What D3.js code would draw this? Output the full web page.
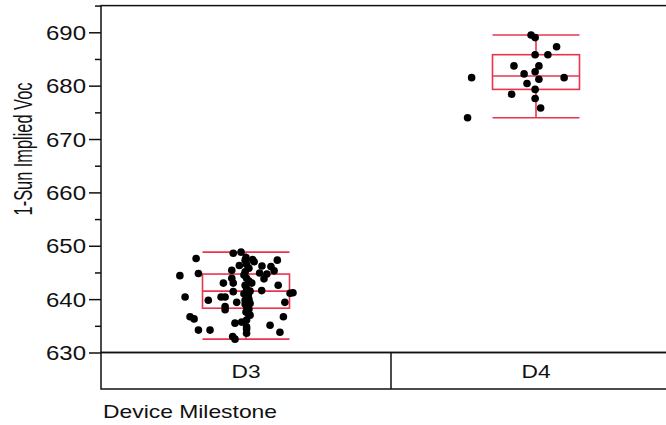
<!DOCTYPE html>
<html>
<head>
<meta charset="utf-8">
<script src="https://cdn.jsdelivr.net/npm/d3@7"></script>
<style>
  html, body { margin: 0; padding: 0; background: #fff; }
  svg { display: block; }
  text { font-family: "Liberation Sans", Arial, sans-serif; fill: #111; }
</style>
</head>
<body>
<svg id="chart" width="666" height="425"></svg>
<script>
// Groups on the x axis
const categories = ["D3", "D4"];

// 1-Sun implied Voc per device, D3 milestone
const valuesD3 = [
  647.6, 644.4, 644.8, 640.4, 648.6, 648.8, 647.8, 646.5, 647.0, 646.2,
  647.3, 646.1, 644.9, 644.7, 645.3, 643.8, 646.3, 645.4, 643.9, 645.1,
  643.9, 643.0, 643.0, 643.0, 642.6, 641.6, 641.4, 642.0, 640.8, 641.1,
  641.2, 640.4, 640.4, 639.8, 639.4, 639.2, 639.4, 638.6, 638.0, 639.8,
  638.6, 636.7, 636.3, 634.2, 634.2, 635.5, 635.7, 637.0, 636.1, 634.8,
  633.6, 636.7, 635.1, 633.8, 633.0, 632.5, 647.3, 647.4, 645.8, 644.5,
  643.4, 642.6, 641.5, 641.0, 640.0, 639.1, 638.1, 637.6, 637.3, 634.4
];
// horizontal jitter of each D3 point, as a fraction of the category width
const jitterD3 = [
  -0.172, -0.228, -0.164, -0.210, -0.044, -0.017, 0.000, 0.002, 0.028, 0.055,
   0.108,  0.086,  0.047,  0.072,  0.097,  0.062, -0.023, -0.049, -0.049, -0.003,
   0.002, -0.078, -0.044,  0.020,  0.111,  0.054, -0.044,  0.002,  0.008,  0.152,
   0.162, -0.086, -0.072, -0.130, -0.032,  0.014,  0.134, -0.072, -0.072, -0.003,
   0.002, -0.193, -0.179, -0.164, -0.124, -0.038, -0.015,  0.014,  0.002,  0.002,
   0.002,  0.129,  0.083,  0.117, -0.046, -0.038, -0.003,  0.023,  0.010, -0.007,
   0.010, -0.003,  0.014, -0.007,  0.010, -0.003,  0.010,  0.000,  0.008,  0.002
];

// 1-Sun implied Voc per device, D4 milestone
const valuesD4 = [
  689.5, 689.0, 687.3, 685.8, 685.8, 683.7, 683.7, 682.6, 682.2,
  681.5, 681.5, 681.2, 680.4, 679.3, 678.4, 677.6, 675.8, 674.0
];
const jitterD4 = [
  -0.017, -0.003, 0.071, -0.003, 0.041, -0.076, 0.010, -0.003, -0.041,
  -0.222, 0.097, 0.010, -0.031, -0.003, -0.084, -0.003, 0.016, -0.236
];

// Box plot summary per group (whisker ends, quartiles, median)
const whiskerLow  = [632.5, 674.0];
const quartile1   = [638.3, 679.3];
const medians     = [641.5, 681.8];
const quartile3   = [644.7, 685.8];
const whiskerHigh = [648.8, 689.5];

// Axis ticks
const majorTicks = [630, 640, 650, 660, 670, 680, 690];
const minorTicks = [635, 645, 655, 665, 675, 685, 695];

const svg = d3.select("#chart");
const boxColor = "#e8344e";
const SX = 1.23;              // horizontal text stretch

const plotTop = 5.6, plotBottom = 352.5, plotLeft = 101, plotRight = 681;
const bandBottom = 389;

const y = d3.scaleLinear().domain([630, 695]).range([plotBottom, plotTop]);
const x = d3.scaleBand().domain(categories).range([plotLeft, plotRight]);
const boxW = x.bandwidth() * 0.3;

// Plot frame
svg.append("rect")
  .attr("x", plotLeft).attr("y", plotTop)
  .attr("width", plotRight - plotLeft).attr("height", plotBottom - plotTop)
  .attr("fill", "none").attr("stroke", "#111").attr("stroke-width", 1.5);

// Category band below the plot
svg.append("rect")
  .attr("x", plotLeft).attr("y", plotBottom)
  .attr("width", plotRight - plotLeft).attr("height", bandBottom - plotBottom)
  .attr("fill", "none").attr("stroke", "#111").attr("stroke-width", 1.5);
svg.selectAll("line.divider")
  .data(categories.slice(1))
  .join("line")
  .attr("class", "divider")
  .attr("x1", d => x(d)).attr("x2", d => x(d))
  .attr("y1", plotBottom).attr("y2", bandBottom)
  .attr("stroke", "#111").attr("stroke-width", 1.5);

svg.selectAll("text.cat")
  .data(categories)
  .join("text")
  .attr("class", "cat")
  .attr("text-anchor", "middle")
  .attr("font-size", 18.5)
  .attr("transform", d => `translate(${x(d) + x.bandwidth() / 2},${378}) scale(${SX},1)`)
  .text(d => d);

// Y axis: major ticks with labels, minor ticks without
const yAxis = d3.axisLeft(y).tickValues(majorTicks).tickSize(12).tickPadding(3).tickFormat(d3.format("d"));
const gY = svg.append("g").attr("transform", `translate(${plotLeft},0)`).call(yAxis);
gY.select(".domain").remove();
gY.selectAll(".tick line").attr("stroke", "#111").attr("stroke-width", 1.5);
gY.selectAll(".tick text")
  .attr("font-size", 19.5)
  .attr("font-family", "Liberation Sans, Arial, sans-serif")
  .attr("fill", "#111")
  .attr("dy", null)
  .attr("y", 7)
  .each(function () {
    const t = d3.select(this);
    const xx = +t.attr("x");
    t.attr("x", 0).attr("transform", `translate(${xx},0) scale(${SX},1)`);
  });

const gMinor = svg.append("g").attr("transform", `translate(${plotLeft},0)`)
  .call(d3.axisLeft(y).tickValues(minorTicks).tickSize(6).tickFormat(""));
gMinor.select(".domain").remove();
gMinor.selectAll(".tick line").attr("stroke", "#111").attr("stroke-width", 1.5);

// Axis titles
svg.append("text")
  .attr("font-size", 18.6)
  .attr("transform", `translate(103,418) scale(${SX},1)`)
  .text("Device Milestone");

svg.append("text")
  .attr("font-size", 19.5)
  .attr("text-anchor", "middle")
  .attr("transform", `translate(32,149) rotate(-90) scale(0.84,1.3)`)
  .text("1-Sun Implied Voc");

// Box plots
const boxes = categories.map((c, i) => ({
  cx: x(c) + x.bandwidth() / 2,
  lo: whiskerLow[i], q1: quartile1[i], med: medians[i], q3: quartile3[i], hi: whiskerHigh[i]
}));
const gBox = svg.append("g")
  .attr("fill", "none").attr("stroke", boxColor).attr("stroke-width", 1.6);
boxes.forEach(b => {
  const g = gBox.append("g");
  g.append("line").attr("x1", b.cx).attr("x2", b.cx).attr("y1", y(b.hi)).attr("y2", y(b.q3));
  g.append("line").attr("x1", b.cx).attr("x2", b.cx).attr("y1", y(b.q1)).attr("y2", y(b.lo));
  g.append("line").attr("x1", b.cx - boxW / 2).attr("x2", b.cx + boxW / 2).attr("y1", y(b.hi)).attr("y2", y(b.hi));
  g.append("line").attr("x1", b.cx - boxW / 2).attr("x2", b.cx + boxW / 2).attr("y1", y(b.lo)).attr("y2", y(b.lo));
  g.append("rect").attr("x", b.cx - boxW / 2).attr("y", y(b.q3))
    .attr("width", boxW).attr("height", y(b.q1) - y(b.q3));
  g.append("line").attr("x1", b.cx - boxW / 2).attr("x2", b.cx + boxW / 2).attr("y1", y(b.med)).attr("y2", y(b.med));
});

// Jittered points
const points = [
  ...valuesD3.map((v, i) => ({ cat: "D3", v, j: jitterD3[i] })),
  ...valuesD4.map((v, i) => ({ cat: "D4", v, j: jitterD4[i] }))
];
svg.append("g").selectAll("circle")
  .data(points)
  .join("circle")
  .attr("cx", d => x(d.cat) + x.bandwidth() / 2 + d.j * x.bandwidth())
  .attr("cy", d => y(d.v))
  .attr("r", 3.8)
  .attr("fill", "#000");
</script>
</body>
</html>
